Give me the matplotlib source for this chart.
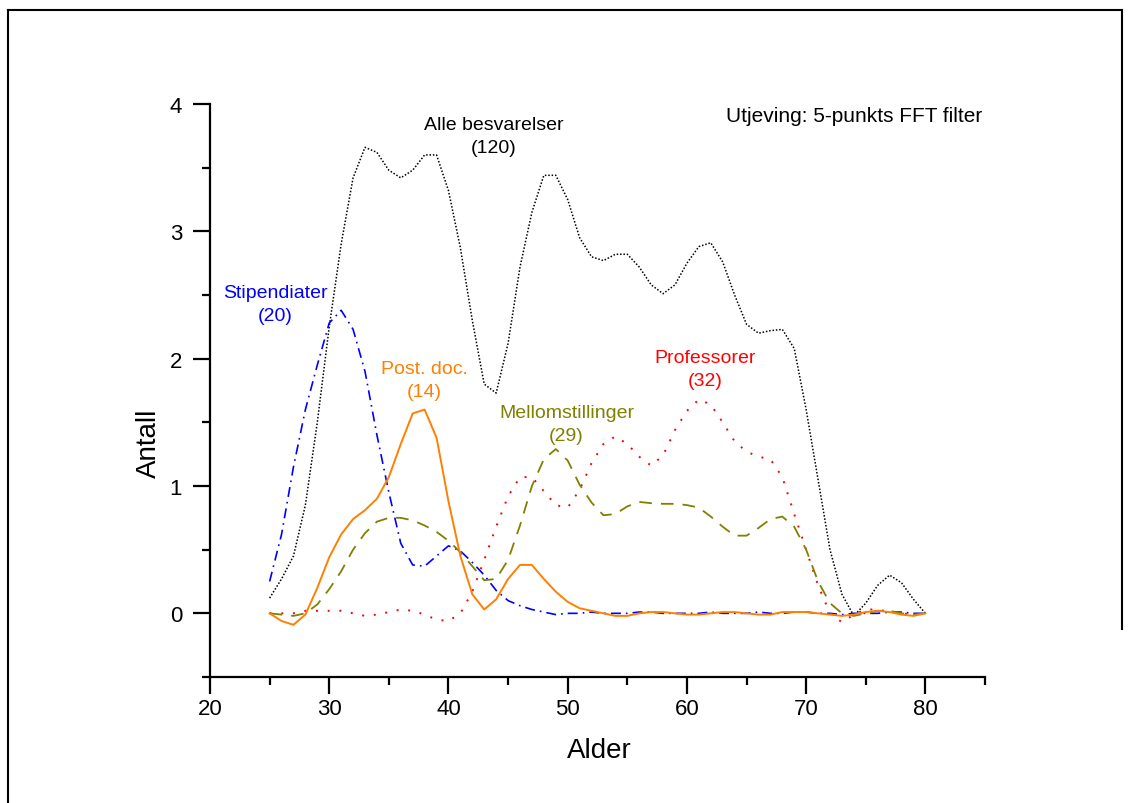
import numpy as np
import matplotlib
matplotlib.use("Agg")
import matplotlib.pyplot as plt
from matplotlib.lines import Line2D
from matplotlib.ticker import MultipleLocator

plt.rcParams['font.family'] = ['Liberation Sans', 'DejaVu Sans']

# Alder 25..80
alder = np.arange(25, 81)

alle = [0.12, 0.27, 0.45, 0.85, 1.5, 2.25, 2.9, 3.42, 3.66, 3.62,
        3.48, 3.42, 3.48, 3.6, 3.6, 3.32, 2.87, 2.3, 1.8, 1.73,
        2.12, 2.72, 3.15, 3.44, 3.44, 3.25, 2.95, 2.8, 2.77, 2.82,
        2.82, 2.72, 2.58, 2.51, 2.58, 2.75, 2.88, 2.91, 2.76, 2.5,
        2.27, 2.2, 2.22, 2.23, 2.08, 1.6, 1.05, 0.5, 0.15, -0.02,
        0.08, 0.22, 0.3, 0.24, 0.11, 0.0]

stipendiater = [0.25, 0.62, 1.15, 1.6, 1.95, 2.28, 2.38, 2.23, 1.9, 1.4,
                0.95, 0.55, 0.38, 0.37, 0.45, 0.53, 0.49, 0.4, 0.3, 0.18,
                0.1, 0.06, 0.03, 0.01, -0.01, 0.0, 0.0, 0.01, 0.0, 0.0,
                0.0, 0.01, 0.01, 0.0, 0.0, 0.0, 0.0, 0.01, 0.0, 0.0,
                0.0, 0.01, 0.0, 0.0, 0.01, 0.01, 0.0, 0.0, -0.01, 0.0,
                0.0, 0.0, 0.01, 0.01, 0.0, 0.0]

postdoc = [0.0, -0.06, -0.09, -0.01, 0.2, 0.44, 0.62, 0.74, 0.81, 0.9,
           1.07, 1.33, 1.57, 1.6, 1.38, 0.88, 0.45, 0.15, 0.03, 0.11,
           0.27, 0.38, 0.38, 0.27, 0.17, 0.09, 0.04, 0.02, 0.0, -0.02,
           -0.02, 0.0, 0.01, 0.01, 0.0, -0.01, -0.01, 0.0, 0.01, 0.01,
           0.0, -0.01, -0.01, 0.01, 0.01, 0.01, 0.0, -0.01, -0.02, -0.01,
           0.01, 0.02, 0.01, -0.01, -0.02, 0.0]

mellom = [0.0, -0.01, -0.02, 0.0, 0.07, 0.19, 0.33, 0.5, 0.63, 0.72,
          0.75, 0.75, 0.73, 0.69, 0.64, 0.57, 0.48, 0.37, 0.26, 0.27,
          0.42, 0.69, 1.0, 1.21, 1.29, 1.2, 1.01, 0.87, 0.77, 0.78,
          0.84, 0.875, 0.865, 0.86, 0.86, 0.85, 0.83, 0.76, 0.68, 0.61,
          0.61, 0.67, 0.74, 0.76, 0.68, 0.5, 0.25, 0.08, 0.0, -0.02,
          0.0, 0.02, 0.02, 0.0, -0.01, 0.0]

professorer = [0.0, 0.0, 0.0, 0.02, 0.02, 0.02, 0.02, 0.0, -0.02, -0.01,
               0.01, 0.03, 0.02, -0.01, -0.05, -0.06, 0.0, 0.17, 0.42, 0.68,
               0.92, 1.07, 1.07, 0.96, 0.85, 0.83, 0.97, 1.18, 1.33, 1.39,
               1.33, 1.23, 1.16, 1.24, 1.44, 1.59, 1.68, 1.64, 1.5, 1.35,
               1.27, 1.23, 1.21, 1.07, 0.78, 0.5, 0.22, 0.0, -0.07, -0.01,
               0.03, 0.03, 0.01, 0.0, -0.01, 0.0]

fig = plt.figure(figsize=(11.3, 8.04), dpi=100)
ax = fig.add_axes([210 / 1130, 1 - 678 / 804, 775 / 1130, 573 / 804])

# kurver
ax.plot(alder, alle, color="black", lw=1.1, ls=(0, (1, 1.2)))
ax.plot(alder, stipendiater, color="#0000ff", lw=1.2, ls=(0, (6, 3, 1, 3)))
ax.plot(alder, professorer, color="#ff0000", lw=1.4, ls=(0, (1, 5)))
ax.plot(alder, mellom, color="#808000", lw=1.3, ls=(0, (7, 5)))
ax.plot(alder, postdoc, color="#ff8000", lw=1.4)

# tekster
ax.text(43.8, 3.75, "Alle besvarelser\n(120)", ha="center", va="center",
        fontsize=14, color="black", linespacing=1.45)
ax.text(25.45, 2.43, "Stipendiater\n(20)", ha="center", va="center",
        fontsize=14, color="#0000ff", linespacing=1.45)
ax.text(38.0, 1.83, "Post. doc.\n(14)", ha="center", va="center",
        fontsize=14, color="#ff8000", linespacing=1.45)
ax.text(49.9, 1.49, "Mellomstillinger\n(29)", ha="center", va="center",
        fontsize=14, color="#808000", linespacing=1.45)
ax.text(61.5, 1.92, "Professorer\n(32)", ha="center", va="center",
        fontsize=14, color="#ff0000", linespacing=1.45)
ax.text(84.8, 3.91, "Utjeving: 5-punkts FFT filter", ha="right", va="center",
        fontsize=15, color="black")

# akser
ax.set_xlim(20, 85)
ax.set_ylim(-0.5, 4)
ax.xaxis.set_major_locator(MultipleLocator(10))
ax.xaxis.set_minor_locator(MultipleLocator(5))
ax.yaxis.set_major_locator(MultipleLocator(1))
ax.yaxis.set_minor_locator(MultipleLocator(0.5))
ax.set_xticks(range(20, 81, 10))

for side in ["top", "right"]:
    ax.spines[side].set_visible(False)
for side in ["left", "bottom"]:
    ax.spines[side].set_linewidth(1.6)

ax.tick_params(which="major", direction="out", length=12, width=1.6,
               labelsize=16)
ax.tick_params(which="minor", direction="out", length=6, width=1.6)
ax.tick_params(axis="y", which="major", pad=8)
ax.tick_params(axis="x", which="major", pad=3)

ax.set_xlabel("Alder", fontsize=20)
ax.set_ylabel("Antall", fontsize=20)
ax.xaxis.set_label_coords(0.502, -0.105)
ax.yaxis.set_label_coords(-0.062, 0.41)

# ramme rundt figuren
L, T, R = 8 / 1130, 1 - 11 / 804, 1122 / 1130
fig.add_artist(Line2D([L, L], [0, T], transform=fig.transFigure, color="black", lw=1.5))
fig.add_artist(Line2D([L, R], [T, T], transform=fig.transFigure, color="black", lw=1.5))
fig.add_artist(Line2D([R, R], [T, 1 - 630 / 804], transform=fig.transFigure, color="black", lw=1.5))

fig.savefig("out.png", dpi=100)
